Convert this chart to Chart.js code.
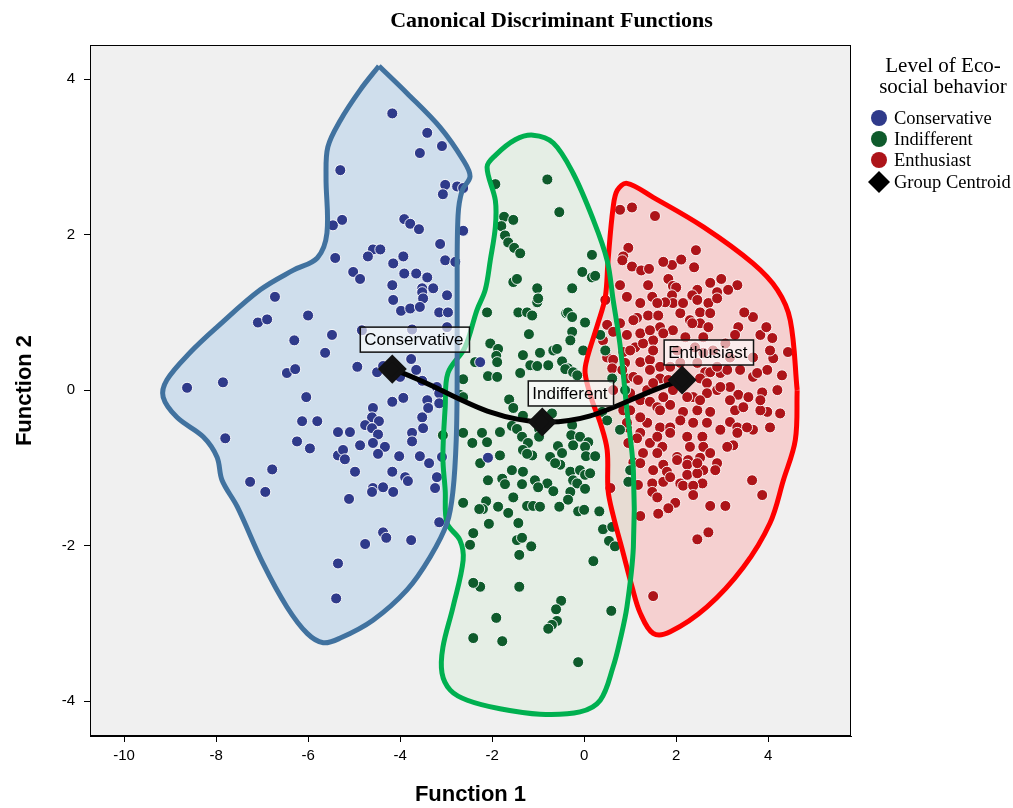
<!DOCTYPE html>
<html>
<head>
<meta charset="utf-8">
<script src="https://cdn.jsdelivr.net/npm/chart.js@4"></script>
<style>
  body { margin: 0; background: #fff; }
  #wrap { width: 1013px; height: 808px; position: relative; }
</style>
</head>
<body>
<div id="wrap"><canvas id="DiscChart"></canvas></div>
<script>
// group names / legend
const groups = ['Conservative', 'Indifferent', 'Enthusiast'];
const xTicks = [-10, -8, -6, -4, -2, 0, 2, 4];
const yTicks = [-4, -2, 0, 2, 4];

// discriminant scores (Function 1, Function 2)
const conservative = [[-4.17,3.56],[-3.41,3.31],[-3.09,3.14],[-3.57,3.05],[-5.30,2.83],[-3.02,2.64],[-2.76,2.62],[-2.63,2.60],[-3.07,2.52],[-5.26,2.19],[-5.46,2.12],[-3.91,2.20],[-3.78,2.14],[-3.59,2.07],[-2.63,2.05],[-3.13,1.88],[-4.59,1.81],[-4.43,1.81],[-4.70,1.72],[-3.93,1.72],[-4.15,1.63],[-3.02,1.67],[-2.80,1.65],[-5.02,1.52],[-4.87,1.43],[-3.91,1.50],[-3.65,1.50],[-3.41,1.45],[-4.17,1.35],[-3.52,1.31],[-3.28,1.31],[-5.41,1.70],[-6.72,1.20],[-7.09,0.87],[-6.89,0.91],[-6.00,0.96],[-5.48,0.71],[-6.30,0.64],[-5.63,0.48],[-6.46,0.22],[-6.28,0.27],[-7.85,0.10],[-8.63,0.03],[-6.04,-0.09],[-6.13,-0.40],[-5.80,-0.40],[-5.35,-0.54],[-7.80,-0.62],[-6.24,-0.66],[-5.96,-0.75],[-5.35,-0.84],[-6.78,-1.02],[-7.26,-1.18],[-6.93,-1.31],[-5.35,-2.23],[-5.39,-2.68],[-4.15,1.16],[-3.52,1.26],[-3.50,1.18],[-2.98,1.22],[-3.98,1.02],[-3.78,1.05],[-3.57,1.07],[-3.15,1.00],[-2.96,1.00],[-4.83,0.77],[-3.74,0.78],[-2.98,0.81],[-4.93,0.30],[-4.50,0.23],[-4.37,0.31],[-3.76,0.40],[-3.65,0.26],[-4.00,0.17],[-3.52,0.12],[-3.20,0.04],[-3.15,-0.04],[-4.17,-0.15],[-3.93,-0.10],[-3.41,-0.13],[-3.39,-0.23],[-3.15,-0.17],[-4.59,-0.23],[-4.61,-0.35],[-4.46,-0.40],[-3.52,-0.35],[-4.76,-0.45],[-4.61,-0.49],[-4.48,-0.57],[-3.74,-0.55],[-3.50,-0.49],[-5.09,-0.54],[-3.74,-0.66],[-4.87,-0.71],[-4.59,-0.68],[-4.33,-0.73],[-4.48,-0.82],[-5.24,-0.77],[-5.20,-0.89],[-4.02,-0.85],[-3.57,-0.85],[-3.37,-0.94],[-3.09,-0.86],[-4.98,-1.05],[-4.17,-1.05],[-3.89,-1.12],[-3.83,-1.17],[-3.20,-1.12],[-4.59,-1.26],[-4.37,-1.25],[-5.11,-1.40],[-4.61,-1.31],[-4.15,-1.31],[-3.24,-1.26],[-4.37,-1.83],[-4.30,-1.90],[-3.76,-1.93],[-4.76,-1.98],[-3.15,-1.70],[-2.09,-0.87],[-2.26,0.36]];

const indifferent = [[-1.93,2.65],[-0.80,2.71],[-0.54,2.29],[-1.74,2.23],[-1.54,2.19],[-1.80,2.11],[-1.72,1.99],[-1.65,1.90],[-1.52,1.83],[-1.39,1.76],[0.17,1.74],[-0.04,1.52],[0.17,1.45],[0.24,1.47],[-1.54,1.39],[-1.46,1.43],[-1.02,1.31],[-0.26,1.31],[-2.11,1.00],[-1.43,1.00],[-1.24,1.00],[-1.02,1.13],[-1.00,1.18],[-1.13,0.96],[-0.39,0.99],[-0.35,1.00],[-0.26,0.94],[0.02,0.87],[-0.26,0.75],[-0.30,0.64],[-1.20,0.72],[-2.04,0.60],[-1.87,0.53],[-1.91,0.44],[-1.89,0.36],[-1.33,0.45],[-0.96,0.48],[-0.67,0.51],[-0.59,0.53],[-0.02,0.51],[-0.48,0.37],[-0.35,0.28],[-0.41,0.27],[-1.17,0.32],[-1.02,0.31],[-0.78,0.32],[-1.39,0.22],[-2.09,0.18],[-1.89,0.17],[-0.24,0.23],[-0.15,0.19],[-1.63,-0.12],[-1.54,-0.23],[-1.33,-0.33],[-0.70,-0.30],[-0.98,-0.50],[-0.98,-0.60],[-1.57,-0.46],[-1.46,-0.50],[-1.35,-0.60],[-1.83,-0.54],[-2.22,-0.55],[-2.11,-0.67],[-1.22,-0.68],[-1.33,-0.77],[-0.57,-0.72],[-0.48,-0.81],[-0.26,-0.45],[-0.28,-0.58],[-0.24,-0.71],[-0.09,-0.60],[0.09,-0.67],[0.02,-0.73],[-1.83,-0.84],[-2.26,-0.94],[-1.13,-0.84],[-1.24,-0.82],[-0.74,-0.86],[-0.52,-0.96],[0.04,-0.85],[0.24,-0.85],[-0.63,-0.94],[-1.57,-1.03],[-1.33,-1.05],[-0.30,-1.05],[-0.09,-1.03],[0.02,-1.09],[-2.09,-1.16],[-1.78,-1.14],[-1.07,-1.16],[-0.80,-1.20],[-0.24,-1.16],[-0.15,-1.20],[0.13,-1.07],[-1.72,-1.21],[-1.35,-1.21],[-1.00,-1.25],[-0.67,-1.30],[-0.30,-1.31],[0.02,-1.27],[-2.13,-1.43],[-2.20,-1.53],[-1.87,-1.50],[-1.65,-1.58],[-1.54,-1.38],[-1.24,-1.49],[-1.11,-1.49],[-0.96,-1.50],[-0.54,-1.50],[-0.35,-1.41],[-0.13,-1.56],[0.00,-1.54],[0.33,-1.56],[-2.07,-1.72],[-1.43,-1.71],[-1.46,-1.93],[-1.35,-1.90],[-1.15,-2.01],[-1.41,-2.12],[0.41,-1.79],[0.61,-1.76],[0.54,-1.94],[0.67,-2.01],[0.20,-2.20],[-2.26,-2.53],[-1.41,-2.53],[-0.50,-2.71],[-0.61,-2.82],[-0.59,-2.97],[-0.70,-3.02],[-0.78,-3.07],[-1.91,-2.93],[0.59,-2.84],[-1.78,-3.23],[-0.13,-3.50],[-2.63,-1.45],[-2.41,-1.84],[-2.48,-1.99],[-2.41,-2.48],[-2.41,-3.19],[-2.28,-1.53],[-2.63,0.14],[-2.70,-0.06],[-2.63,-0.09],[-2.63,-0.55],[-2.43,-0.68],[-3.07,-0.58],[-2.37,0.36],[0.61,0.15],[0.39,-0.28],[0.50,-0.39],[0.78,-0.51],[0.96,-1.18],[0.35,0.71],[0.46,0.51],[0.89,0.00],[1.00,-1.03]];

const enthusiast = [[0.78,2.32],[1.04,2.35],[1.54,2.24],[0.96,1.83],[0.85,1.72],[0.83,1.67],[1.04,1.59],[1.24,1.54],[1.41,1.56],[1.91,1.61],[2.11,1.68],[2.43,1.80],[0.78,1.35],[1.39,1.35],[1.83,1.43],[1.93,1.34],[2.00,1.32],[2.74,1.38],[2.98,1.43],[3.33,1.35],[3.13,1.29],[2.89,1.26],[2.46,1.29],[2.35,1.22],[1.91,1.22],[1.48,1.20],[0.93,1.20],[1.93,1.12],[2.70,1.12],[2.89,1.18],[2.52,1.00],[1.76,1.13],[1.15,0.93],[1.39,0.96],[1.61,0.96],[2.09,0.99],[2.30,0.90],[2.52,0.86],[2.70,0.81],[1.65,0.81],[1.50,0.64],[1.93,0.77],[0.93,0.71],[1.11,0.55],[3.35,0.81],[3.28,0.71],[4.09,0.67],[4.43,0.49],[4.11,0.41],[4.30,0.19],[3.98,0.26],[1.28,0.60],[0.89,0.35],[1.22,0.36],[1.43,0.39],[1.65,0.30],[0.93,0.15],[1.07,0.17],[1.65,0.15],[1.83,0.13],[2.63,0.23],[2.52,0.15],[2.96,0.22],[3.11,0.26],[3.67,0.17],[2.67,0.09],[2.89,0.00],[3.17,0.04],[3.35,-0.06],[3.57,-0.09],[3.87,-0.03],[2.37,-0.09],[1.00,-0.04],[1.22,-0.13],[1.43,-0.15],[1.59,-0.22],[1.87,-0.19],[2.15,-0.28],[2.46,-0.26],[2.74,-0.28],[3.28,-0.26],[3.98,-0.28],[4.26,-0.30],[3.17,-0.41],[3.33,-0.48],[3.67,-0.51],[4.04,-0.48],[1.37,-0.42],[1.65,-0.48],[1.87,-0.48],[2.24,-0.60],[2.57,-0.60],[1.22,-0.55],[1.15,-0.62],[1.43,-0.68],[1.70,-0.73],[2.30,-0.73],[2.59,-0.73],[3.24,-0.71],[1.59,-0.81],[1.28,-0.81],[2.02,-0.86],[2.52,-0.87],[2.74,-0.81],[2.26,-0.90],[2.24,-0.96],[2.89,-0.94],[2.85,-1.03],[1.72,-0.96],[1.80,-1.05],[1.07,-0.93],[1.50,-1.03],[2.59,-1.03],[2.24,-1.09],[2.46,-1.07],[1.48,-1.20],[1.72,-1.18],[1.87,-1.12],[2.09,-1.20],[2.57,-1.20],[3.65,-1.16],[1.17,-1.22],[1.48,-1.31],[1.59,-1.38],[2.15,-1.23],[2.37,-1.23],[2.37,-1.35],[1.98,-1.45],[1.83,-1.52],[1.61,-1.59],[1.22,-1.62],[2.74,-1.49],[3.07,-1.49],[3.87,-1.35],[2.70,-1.83],[2.46,-1.92],[1.50,-2.65],[0.50,0.84],[0.63,0.75],[0.50,0.42],[0.63,0.39],[0.61,0.28],[0.63,0.00],[0.78,0.86],[0.85,0.49],[0.83,0.26],[0.85,-0.26],[0.93,-0.48],[0.96,-0.68],[0.46,1.16],[0.41,0.64],[0.57,-1.26],[1.07,0.90],[1.72,0.73],[2.20,0.68],[2.35,0.86],[2.59,0.68],[1.00,0.51],[1.50,0.51],[1.43,0.26],[1.87,0.30],[2.46,0.35],[2.74,0.23],[2.96,0.04],[2.67,-0.04],[2.52,-0.13],[2.24,-0.09],[1.93,0.00],[1.72,-0.09],[1.37,0.00],[1.17,0.13],[1.50,0.09],[1.65,-0.26],[1.22,-0.35],[1.00,-0.26],[2.09,-0.39],[2.37,-0.42],[2.67,-0.42],[2.96,-0.51],[1.87,-0.55],[1.59,-0.60],[0.93,-0.42],[3.54,-0.48],[3.83,-0.26],[3.17,-0.13],[3.46,-0.22],[3.17,0.42],[2.89,0.30],[3.39,0.26],[3.76,0.22],[3.67,0.42],[4.04,0.51],[3.07,0.60],[2.80,0.51],[2.59,0.48],[2.02,0.51],[2.09,0.35],[1.22,0.73],[1.43,0.77],[2.41,0.55],[2.02,-0.90],[1.22,-0.94],[2.46,-0.94],[3.11,-0.73],[3.33,-0.55],[3.83,-0.13],[4.20,0.00],[3.83,0.71],[3.67,0.94],[2.46,1.16],[2.74,0.99],[1.22,1.12],[1.59,1.12],[2.15,1.12],[1.72,1.65],[2.39,1.58],[3.96,0.81],[3.48,1.00]];

// hand-drawn outlines around each group (closed)
const conservativeHull = [[-4.46,4.17],[-3.85,3.82],[-3.13,3.38],[-2.63,2.96],[-2.48,2.75],[-2.65,2.57],[-2.74,2.25],[-2.76,1.29],[-2.76,0.13],[-2.78,-0.64],[-2.85,-1.29],[-2.98,-1.71],[-3.35,-2.15],[-3.85,-2.57],[-4.59,-2.96],[-5.30,-3.19],[-5.67,-3.25],[-6.02,-3.13],[-6.46,-2.79],[-6.98,-2.23],[-7.54,-1.50],[-7.87,-1.16],[-7.98,-0.86],[-8.28,-0.60],[-8.85,-0.35],[-9.15,-0.09],[-9.07,0.13],[-8.57,0.48],[-7.98,0.81],[-7.04,1.29],[-6.33,1.54],[-5.80,1.70],[-5.59,2.02],[-5.61,2.74],[-5.57,3.13],[-5.30,3.47],[-4.87,3.86],[-4.46,4.17]];
const indifferentHull = [[0.93,-0.26],[1.07,-1.03],[1.07,-2.02],[0.93,-2.79],[0.78,-3.22],[0.63,-3.56],[0.35,-3.99],[-0.09,-4.14],[-0.96,-4.17],[-1.83,-4.10],[-2.54,-3.99],[-2.91,-3.86],[-3.09,-3.64],[-3.07,-3.31],[-2.85,-2.79],[-2.63,-2.19],[-2.70,-1.93],[-2.98,-1.71],[-3.02,-1.29],[-3.07,-0.86],[-3.02,-0.22],[-2.96,0.22],[-2.59,0.55],[-2.33,1.03],[-2.15,1.29],[-2.04,1.67],[-1.93,2.10],[-1.93,2.44],[-2.11,2.87],[-1.93,3.02],[-1.50,3.22],[-1.11,3.28],[-0.67,3.18],[-0.24,2.79],[0.20,2.19],[0.50,1.67],[0.63,1.16],[0.78,0.58],[0.93,-0.26]];
const enthusiastHull = [[4.63,0.00],[4.59,-0.64],[4.33,-1.16],[4.04,-1.71],[3.46,-2.28],[2.67,-2.79],[1.87,-3.11],[1.50,-3.13],[1.22,-2.87],[1.04,-2.53],[0.85,-2.10],[0.63,-1.61],[0.52,-1.29],[0.50,-0.77],[0.35,-0.42],[0.17,-0.13],[0.02,0.22],[0.07,0.42],[0.30,0.86],[0.46,1.20],[0.52,1.67],[0.63,2.35],[0.72,2.57],[0.93,2.66],[1.50,2.48],[2.59,2.10],[3.67,1.63],[4.20,1.29],[4.48,0.90],[4.63,0.00]];

// group centroids
const centroidX = [-4.17, -0.91, 2.13];
const centroidY = [0.27, -0.41, 0.13];

const pointColors = ['#2f3a8a', '#0f5b2c', '#ad1419'];
const hullLine = ['#41729f', '#00b050', '#ff0000'];
const hullFill = ['rgba(133,183,227,0.3)', 'rgba(215,235,215,0.45)', 'rgba(255,150,150,0.35)'];

const toXY = arr => arr.map(p => ({x: p[0], y: p[1]}));
const pointSets = [conservative, indifferent, enthusiast];
const hulls = [conservativeHull, indifferentHull, enthusiastHull];

const datasets = [];
hulls.forEach((h, i) => {
    datasets.push({
        type: 'line', data: toXY(h), order: 5,
        fill: 'shape', backgroundColor: hullFill[i],
        borderWidth: 0, pointRadius: 0, tension: 0.35
    });
});
pointSets.forEach((s, i) => {
    datasets.push({
        type: 'scatter', label: groups[i], data: toXY(s), order: 3,
        pointRadius: 5.5, pointBackgroundColor: pointColors[i],
        pointBorderColor: 'rgba(255,255,255,0.9)', pointBorderWidth: 1
    });
});
hulls.forEach((h, i) => {
    datasets.push({
        type: 'line', data: toXY(h), order: 1,
        fill: false, borderColor: hullLine[i],
        borderWidth: 5, pointRadius: 0, tension: 0.35
    });
});
datasets.push({
    type: 'line', label: 'Group Centroid',
    data: centroidX.map((x, i) => ({x: x, y: centroidY[i]})), order: 0,
    borderColor: '#000', borderWidth: 5, tension: 0.4, fill: false,
    pointStyle: 'rectRot', pointRadius: 11,
    pointBackgroundColor: '#111', pointBorderColor: '#111'
});

const labelOffsets = [[-32, -42], [-14, -41], [-18, -40]];

const decor = {
    id: 'decor',
    beforeDraw(chart) {
        const {ctx, chartArea: a} = chart;
        ctx.save();
        ctx.fillStyle = '#f0f0f0';
        ctx.fillRect(a.left, a.top, a.right - a.left, a.bottom - a.top);
        ctx.restore();
    },
    afterDatasetsDraw(chart) {
        const ctx = chart.ctx;
        const sx = chart.scales.x, sy = chart.scales.y;
        ctx.save();
        ctx.font = '17px "Liberation Sans", Arial, sans-serif';
        ctx.textBaseline = 'middle';
        groups.forEach((g, i) => {
            const cx = sx.getPixelForValue(centroidX[i]);
            const cy = sy.getPixelForValue(centroidY[i]);
            const w = ctx.measureText(g).width + 10;
            const bx = cx + labelOffsets[i][0], by = cy + labelOffsets[i][1];
            ctx.fillStyle = 'rgba(255,255,255,0.6)';
            ctx.fillRect(bx, by, w, 25);
            ctx.strokeStyle = '#111';
            ctx.lineWidth = 1.5;
            ctx.strokeRect(bx, by, w, 25);
            ctx.fillStyle = '#000';
            ctx.fillText(g, bx + 4, by + 13);
        });
        ctx.restore();
    },
    afterDraw(chart) {
        const {ctx, chartArea: a} = chart;
        ctx.save();
        ctx.strokeStyle = '#000';
        ctx.lineWidth = 1;
        ctx.strokeRect(a.left + 0.5, a.top + 0.5, a.right - a.left - 1, a.bottom - a.top - 1);

        // title
        ctx.fillStyle = '#000';
        ctx.textAlign = 'center';
        ctx.textBaseline = 'middle';
        ctx.font = 'bold 22px "Liberation Serif", "Times New Roman", serif';
        ctx.fillText('Canonical Discriminant Functions', (a.left + chart.width) / 2, 21);

        // legend
        const lx = a.right + 28;
        ctx.font = '21px "Liberation Serif", "Times New Roman", serif';
        ctx.fillText('Level of Eco-', a.right + 92, 66);
        ctx.fillText('social behavior', a.right + 92, 87);
        ctx.textAlign = 'left';
        ctx.font = '18.5px "Liberation Serif", "Times New Roman", serif';
        groups.forEach((g, i) => {
            const y = 118 + i * 21;
            ctx.beginPath();
            ctx.arc(lx, y, 8, 0, Math.PI * 2);
            ctx.fillStyle = pointColors[i];
            ctx.fill();
            ctx.fillStyle = '#000';
            ctx.fillText(g, lx + 15, y + 1);
        });
        const dy = 118 + 3 * 21 + 1;
        ctx.beginPath();
        ctx.moveTo(lx, dy - 11);
        ctx.lineTo(lx + 11, dy);
        ctx.lineTo(lx, dy + 11);
        ctx.lineTo(lx - 11, dy);
        ctx.closePath();
        ctx.fillStyle = '#000';
        ctx.fill();
        ctx.fillText('Group Centroid', lx + 15, dy + 1);
        ctx.restore();
    }
};

const tickFont = {family: '"Liberation Sans", Arial, sans-serif', size: 15};
const titleFont = {family: '"Liberation Sans", Arial, sans-serif', size: 22, weight: 'bold'};

const disc = document.getElementById('DiscChart').getContext('2d');
const discChart = new Chart(disc, {
    type: 'scatter',
    data: { datasets: datasets },
    options: {
        responsive: true,
        maintainAspectRatio: false,
        animation: false,
        events: [],
        layout: { padding: { top: 45, right: 162, left: 0, bottom: 0 } },
        plugins: {
            legend: { display: false },
            tooltip: { enabled: false }
        },
        scales: {
            x: {
                type: 'linear', min: -10.74, max: 5.80,
                afterBuildTicks: s => { s.ticks = xTicks.map(v => ({value: v})); },
                afterFit: s => { s.height = 72; },
                grid: { drawOnChartArea: false, tickLength: 6, color: '#000' },
                border: { color: '#000' },
                ticks: { color: '#000', font: tickFont, padding: 5, maxRotation: 0 },
                title: { display: true, text: 'Function 1', color: '#000', font: titleFont, padding: { top: 0, bottom: 0 } }
            },
            y: {
                type: 'linear', min: -4.45, max: 4.44,
                afterBuildTicks: s => { s.ticks = yTicks.map(v => ({value: v})); },
                afterFit: s => { s.width = 90; },
                grid: { drawOnChartArea: false, tickLength: 6, color: '#000' },
                border: { color: '#000' },
                ticks: { color: '#000', font: tickFont, padding: 9 },
                title: { display: true, text: 'Function 2', color: '#000', font: titleFont, padding: { top: 12, bottom: 0 } }
            }
        }
    },
    plugins: [decor]
});
</script>
</body>
</html>
